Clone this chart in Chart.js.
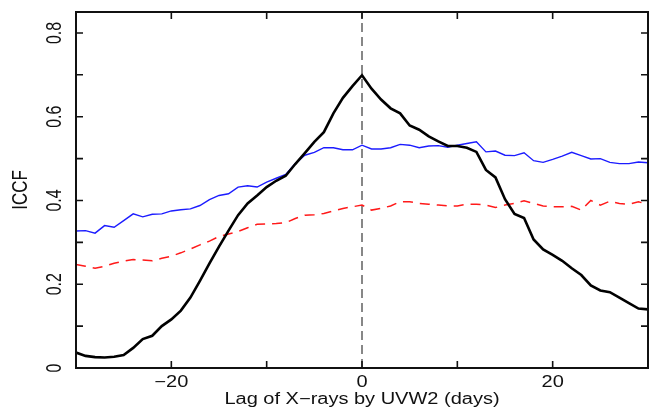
<!DOCTYPE html>
<html>
<head>
<meta charset="utf-8">
<script src="https://cdn.jsdelivr.net/npm/chart.js@4/dist/chart.umd.min.js"></script>
<style>
  html, body { margin: 0; padding: 0; background: #fff; }
  #wrap { width: 654px; height: 409px; position: relative; }
</style>
</head>
<body>
<div id="wrap"><canvas id="iccfChart"></canvas></div>
<script>
// lag in days
const lags = [
  -30, -29, -28, -27, -26, -25, -24, -23, -22, -21,
  -20, -19, -18, -17, -16, -15, -14, -13, -12, -11,
  -10, -9, -8, -7, -6, -5, -4, -3, -2, -1,
  0, 1, 2, 3, 4, 5, 6, 7, 8, 9,
  10, 11, 12, 13, 14, 15, 16, 17, 18, 19,
  20, 21, 22, 23, 24, 25, 26, 27, 28, 29, 30
];

// black solid
const iccfBlack = [
  0.037, 0.029, 0.026, 0.025, 0.027, 0.031, 0.048, 0.069, 0.077, 0.100,
  0.116, 0.137, 0.168, 0.208, 0.250, 0.290, 0.328, 0.365, 0.393, 0.412,
  0.432, 0.447, 0.459, 0.487, 0.513, 0.540, 0.563, 0.608, 0.645, 0.673,
  0.699, 0.667, 0.641, 0.620, 0.608, 0.579, 0.569, 0.553, 0.541, 0.530,
  0.530, 0.526, 0.516, 0.473, 0.455, 0.403, 0.368, 0.358, 0.307, 0.283,
  0.270, 0.256, 0.238, 0.222, 0.197, 0.185, 0.181, 0.168, 0.155, 0.142, 0.140
];

// blue thin
const iccfBlue = [
  0.327, 0.328, 0.322, 0.340, 0.336, 0.352, 0.368, 0.361, 0.367, 0.368,
  0.375, 0.378, 0.380, 0.388, 0.402, 0.412, 0.416, 0.432, 0.435, 0.432,
  0.444, 0.453, 0.462, 0.488, 0.508, 0.515, 0.526, 0.526, 0.521, 0.521,
  0.532, 0.523, 0.523, 0.526, 0.534, 0.532, 0.526, 0.530, 0.531, 0.527,
  0.532, 0.536, 0.540, 0.516, 0.518, 0.508, 0.507, 0.514, 0.495, 0.491,
  0.498, 0.506, 0.515, 0.507, 0.499, 0.500, 0.491, 0.488, 0.488, 0.492, 0.490
];

// red dashed
const iccfRed = [
  0.247, 0.243, 0.238, 0.243, 0.250, 0.255, 0.259, 0.258, 0.256, 0.262,
  0.267, 0.275, 0.284, 0.294, 0.303, 0.314, 0.320, 0.326, 0.335, 0.343,
  0.344, 0.345, 0.347, 0.357, 0.365, 0.366, 0.369, 0.375, 0.381, 0.385,
  0.389, 0.377, 0.381, 0.387, 0.397, 0.397, 0.393, 0.391, 0.389, 0.387,
  0.387, 0.391, 0.391, 0.389, 0.383, 0.389, 0.393, 0.399, 0.393, 0.387,
  0.385, 0.385, 0.386, 0.377, 0.400, 0.389, 0.398, 0.393, 0.391, 0.397, 0.390
];

// axes
const xRange = [-30, 30];
const yRange = [0, 0.85];
const xTickVals = [-20, -10, 0, 10, 20];
const xLabelVals = [-20, 0, 20];
const xLabelText = ['\u221220', '0', '20'];
const yTickVals = [0, 0.1, 0.2, 0.3, 0.4, 0.5, 0.6, 0.7, 0.8];
const yLabelVals = [0, 0.2, 0.4, 0.6, 0.8];
const yLabelText = ['0', '0.2', '0.4', '0.6', '0.8'];
const xTitle = 'Lag of X\u2212rays by UVW2 (days)';
const yTitle = 'ICCF';

const FONT = '"Liberation Sans", Arial, Helvetica, sans-serif';
const TICK = 7;

const pts = vals => lags.map((l, i) => ({ x: l, y: vals[i] }));

// text drawn a bit wider than tall, like the source figure
function stretchedText(ctx, text, x, y, rot, sx) {
  ctx.save();
  ctx.translate(x, y);
  ctx.scale(sx, 1);
  ctx.rotate(rot);
  ctx.fillText(text, 0, 0);
  ctx.restore();
}

const boxAxes = {
  id: 'boxAxes',
  afterDraw(chart) {
    const { ctx, chartArea: a, scales: { x, y } } = chart;
    ctx.save();
    ctx.strokeStyle = '#111';
    ctx.lineWidth = 2;
    ctx.strokeRect(a.left, a.top, a.right - a.left, a.bottom - a.top);

    ctx.lineWidth = 1.6;
    ctx.beginPath();
    xTickVals.forEach(v => {
      const px = x.getPixelForValue(v);
      ctx.moveTo(px, a.bottom); ctx.lineTo(px, a.bottom - TICK);
      ctx.moveTo(px, a.top); ctx.lineTo(px, a.top + TICK);
    });
    yTickVals.forEach(v => {
      const py = y.getPixelForValue(v);
      ctx.moveTo(a.left, py); ctx.lineTo(a.left + TICK, py);
      ctx.moveTo(a.right, py); ctx.lineTo(a.right - TICK, py);
    });
    ctx.stroke();

    ctx.fillStyle = '#111';
    ctx.textAlign = 'center';
    ctx.textBaseline = 'middle';
    ctx.font = '16px ' + FONT;
    xLabelVals.forEach((v, i) => stretchedText(ctx, xLabelText[i], x.getPixelForValue(v), 383, 0, 1.25));
    yLabelVals.forEach((v, i) => stretchedText(ctx, yLabelText[i], 55, y.getPixelForValue(v), -Math.PI / 2, 1.35));

    ctx.font = '16px ' + FONT;
    stretchedText(ctx, xTitle, (a.left + a.right) / 2, 400, 0, 1.25);
    ctx.font = '17px ' + FONT;
    stretchedText(ctx, yTitle, 21, (a.top + a.bottom) / 2, -Math.PI / 2, 1.35);
    ctx.restore();
  }
};

new Chart(document.getElementById('iccfChart'), {
  type: 'line',
  data: {
    datasets: [
      { data: pts(iccfBlack), borderColor: '#000', borderWidth: 2.6 },
      { data: pts(iccfBlue), borderColor: '#1c1cff', borderWidth: 1.4 },
      { data: pts(iccfRed), borderColor: '#ff1a1a', borderWidth: 1.5, borderDash: [10, 7] },
      { data: [{ x: 0, y: yRange[0] }, { x: 0, y: yRange[1] }], borderColor: '#6a6a6a', borderWidth: 1.6, borderDash: [9, 5] },
    ],
  },
  options: {
    responsive: true, maintainAspectRatio: false,
    animation: false,
    layout: { padding: { left: 76, right: 6, top: 12, bottom: 41 } },
    elements: { point: { radius: 0 }, line: { tension: 0, fill: false } },
    plugins: { legend: { display: false }, tooltip: { enabled: false } },
    scales: {
      x: { type: 'linear', min: xRange[0], max: xRange[1], display: false },
      y: { type: 'linear', min: yRange[0], max: yRange[1], display: false },
    },
  },
  plugins: [boxAxes],
});
</script>
</body>
</html>
